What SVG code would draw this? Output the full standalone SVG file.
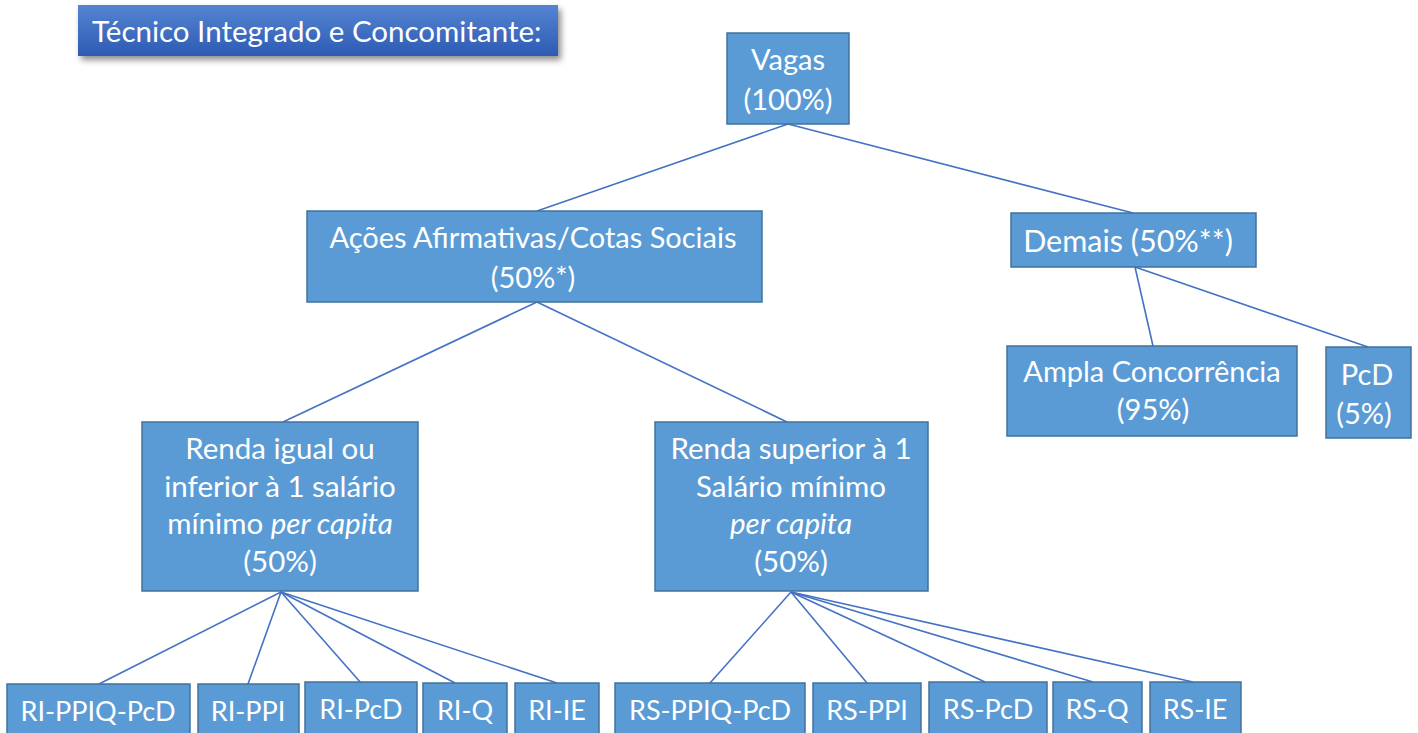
<svg xmlns="http://www.w3.org/2000/svg" width="1418" height="733" viewBox="0 0 1418 733">
<defs>
<linearGradient id="titleGrad" x1="0" y1="0" x2="0" y2="1">
<stop offset="0" stop-color="#5584d2"/>
<stop offset="1" stop-color="#2d5bb3"/>
</linearGradient>
<filter id="shadow" x="-10%" y="-30%" width="120%" height="180%">
<feDropShadow dx="3" dy="4" stdDeviation="3" flood-color="#000" flood-opacity="0.45"/>
</filter>
</defs>
<style>
.node { fill: #5b9bd5; stroke: #41719c; stroke-width: 1.5; }
.t { font-family: Lato, "Open Sans", "Liberation Sans", sans-serif; fill: #ffffff; text-anchor: middle; }
.big { font-size: 29px; }
.mid { font-size: 29.5px; }
.sm { font-size: 27px; }
.it { font-style: italic; }
.conn line { stroke: #4472c4; stroke-width: 1.6; }
</style>
<rect width="1418" height="733" fill="#ffffff"/>

<g id="title">
<rect x="78" y="5" width="480" height="51" fill="url(#titleGrad)" filter="url(#shadow)"/>
<text x="92" y="42" class="t" style="text-anchor:start;font-size:29.5px">Técnico Integrado e Concomitante:</text>
</g>

<g class="conn" id="connectors">
<line x1="788" y1="124" x2="537" y2="211"/>
<line x1="788" y1="124" x2="1133" y2="213"/>
<line x1="537" y1="302" x2="283" y2="422"/>
<line x1="537" y1="302" x2="787" y2="422"/>
<line x1="1135" y1="267" x2="1153" y2="346"/>
<line x1="1135" y1="267" x2="1368" y2="347"/>
<line x1="281" y1="592" x2="99" y2="684"/>
<line x1="281" y1="592" x2="248" y2="684"/>
<line x1="281" y1="592" x2="361" y2="683"/>
<line x1="281" y1="592" x2="455" y2="683"/>
<line x1="281" y1="592" x2="557" y2="683"/>
<line x1="791" y1="592" x2="710" y2="683"/>
<line x1="791" y1="592" x2="867" y2="683"/>
<line x1="791" y1="592" x2="985" y2="682"/>
<line x1="791" y1="592" x2="1093" y2="682"/>
<line x1="791" y1="592" x2="1193" y2="682"/>
</g>

<g id="vagas">
<rect class="node" x="727" y="33" width="122" height="91"/>
<text class="t big" x="788" y="70">Vagas</text>
<text class="t big" x="788" y="110">(100%)</text>
</g>

<g id="acoes">
<rect class="node" x="307" y="211" width="455" height="91"/>
<text class="t big" x="533" y="248">Ações Afirmativas/Cotas Sociais</text>
<text class="t big" x="533" y="288">(50%*)</text>
</g>

<g id="demais">
<rect class="node" x="1011" y="213" width="245" height="54"/>
<text class="t big" x="1128" y="252" style="font-size:30.5px">Demais (50%**)</text>
</g>

<g id="ampla">
<rect class="node" x="1007" y="346" width="290" height="90"/>
<text class="t big" x="1152" y="382">Ampla Concorrência</text>
<text class="t big" x="1153" y="420">(95%)</text>
</g>

<g id="pcd">
<rect class="node" x="1326" y="347" width="85" height="91"/>
<text class="t big" x="1367" y="385">PcD</text>
<text class="t big" x="1364" y="424">(5%)</text>
</g>

<g id="renda-igual">
<rect class="node" x="142" y="422" width="276" height="169"/>
<text class="t mid" x="280" y="459">Renda igual ou</text>
<text class="t mid" x="280" y="497">inferior à 1 salário</text>
<text class="t mid" x="280" y="534">mínimo <tspan class="it">per capita</tspan></text>
<text class="t mid" x="280" y="572">(50%)</text>
</g>

<g id="renda-superior">
<rect class="node" x="655" y="422" width="273" height="169"/>
<text class="t mid" x="791" y="459">Renda superior à 1</text>
<text class="t mid" x="791" y="497">Salário mínimo</text>
<text class="t mid it" x="791" y="534">per capita</text>
<text class="t mid" x="791" y="572">(50%)</text>
</g>

<g id="ri-ppiq-pcd">
<rect class="node" x="7" y="684" width="183" height="60"/>
<text class="t sm" x="98" y="721">RI-PPIQ-PcD</text>
</g>
<g id="ri-ppi">
<rect class="node" x="198" y="684" width="101" height="60"/>
<text class="t sm" x="248" y="721">RI-PPI</text>
</g>
<g id="ri-pcd">
<rect class="node" x="305" y="682" width="112" height="62"/>
<text class="t sm" x="361" y="719">RI-PcD</text>
</g>
<g id="ri-q">
<rect class="node" x="423" y="683" width="84" height="61"/>
<text class="t sm" x="465" y="720">RI-Q</text>
</g>
<g id="ri-ie">
<rect class="node" x="515" y="683" width="84" height="61"/>
<text class="t sm" x="557" y="720">RI-IE</text>
</g>
<g id="rs-ppiq-pcd">
<rect class="node" x="615" y="683" width="190" height="61"/>
<text class="t sm" x="710" y="720">RS-PPIQ-PcD</text>
</g>
<g id="rs-ppi">
<rect class="node" x="813" y="683" width="108" height="61"/>
<text class="t sm" x="867" y="720">RS-PPI</text>
</g>
<g id="rs-pcd">
<rect class="node" x="929" y="682" width="118" height="62"/>
<text class="t sm" x="988" y="719">RS-PcD</text>
</g>
<g id="rs-q">
<rect class="node" x="1053" y="682" width="89" height="62"/>
<text class="t sm" x="1097" y="719">RS-Q</text>
</g>
<g id="rs-ie">
<rect class="node" x="1150" y="682" width="91" height="62"/>
<text class="t sm" x="1195" y="719">RS-IE</text>
</g>
</svg>
